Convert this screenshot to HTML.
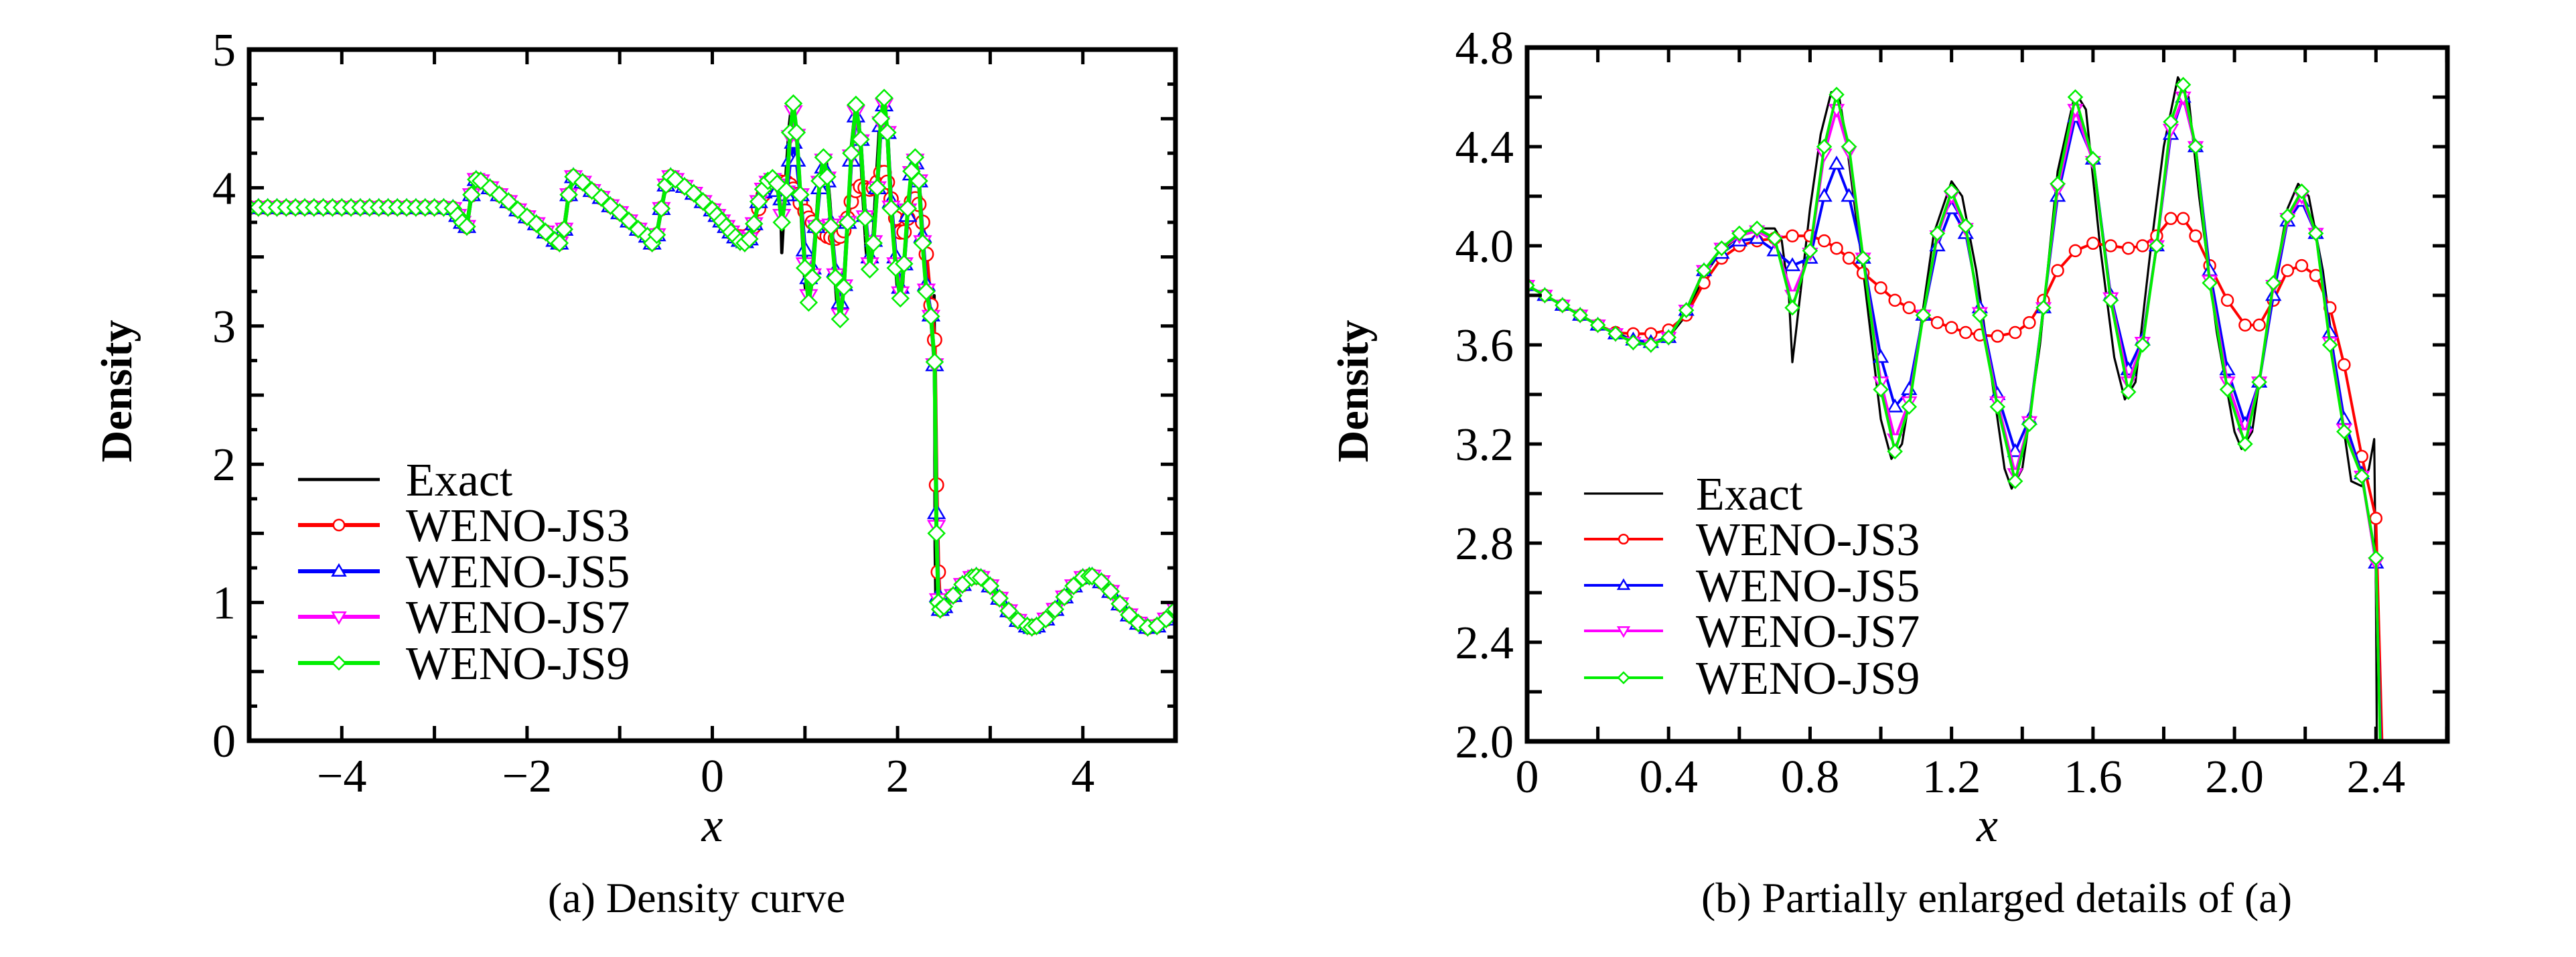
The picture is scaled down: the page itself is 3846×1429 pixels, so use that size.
<!DOCTYPE html>
<html><head><meta charset="utf-8"><title>Density curves</title>
<style>
html,body{margin:0;padding:0;background:#fff;overflow:hidden;width:3846px;height:1429px;}
svg{display:block;}
text{font-family:"Liberation Serif",serif;fill:#000;}
</style></head>
<body>
<svg id="fig" width="3846" height="1429" viewBox="0 0 3846 1429" xmlns="http://www.w3.org/2000/svg" font-family="Liberation Serif, serif">
<defs>
<clipPath id="clipA"><rect x="372" y="74" width="1383" height="1032"/></clipPath>
<clipPath id="clipB"><rect x="2280" y="71" width="1374" height="1036"/></clipPath>
</defs>
</svg>
<script>
// ---------- data ----------
var leftX = [-5,-4.9,-4.8,-4.7,-4.6,-4.5,-4.4,-4.3,-4.2,-4.1,-4,-3.9,-3.8,-3.7,-3.6,-3.5,-3.4,-3.3,-3.2,-3.1,-3,-2.9,-2.8,-2.75,-2.7,-2.65,-2.6,-2.55,-2.5,-2.4,-2.3,-2.2,-2.1,-2,-1.9,-1.8,-1.7,-1.65,-1.6,-1.55,-1.5,-1.4,-1.3,-1.2,-1.1,-1,-0.9,-0.8,-0.7,-0.65,-0.6,-0.55,-0.5,-0.45,-0.4,-0.3,-0.2,-0.1];
var leftY = [3.857,3.857,3.857,3.857,3.857,3.857,3.857,3.857,3.857,3.857,3.857,3.857,3.857,3.857,3.857,3.857,3.857,3.857,3.857,3.857,3.857,3.857,3.85,3.8,3.75,3.72,3.95,4.06,4.05,4.0,3.95,3.9,3.84,3.79,3.74,3.68,3.62,3.6,3.7,3.95,4.08,4.04,3.98,3.93,3.87,3.82,3.76,3.7,3.65,3.6,3.66,3.85,4.02,4.08,4.06,4.01,3.96,3.9];
var rightX = [2.46,2.5,2.6,2.7,2.8,2.85,2.9,3.0,3.1,3.2,3.3,3.4,3.45,3.5,3.6,3.7,3.8,3.9,4.0,4.07,4.1,4.2,4.3,4.4,4.5,4.6,4.7,4.8,4.9,5.0];
var rightY = [0.95,0.97,1.05,1.13,1.18,1.19,1.18,1.12,1.03,0.94,0.87,0.83,0.82,0.83,0.88,0.95,1.04,1.12,1.18,1.19,1.19,1.15,1.08,0.99,0.91,0.85,0.82,0.83,0.88,0.95];

var exactInnerX = [0,0.1,0.2,0.3,0.35,0.4,0.45,0.5,0.55,0.6,0.65,0.7,0.72,0.74,0.75,0.76,0.78,0.8,0.83,0.86,0.88,0.9,0.95,1.0,1.03,1.06,1.1,1.15,1.2,1.23,1.27,1.3,1.35,1.37,1.4,1.45,1.5,1.55,1.58,1.62,1.66,1.69,1.72,1.76,1.8,1.84,1.87,1.9,1.95,2.0,2.02,2.05,2.1,2.15,2.18,2.21,2.25,2.3,2.33,2.36,2.38,2.395,2.40,2.405,2.415];
var exactInnerY = [3.84,3.76,3.68,3.62,3.61,3.63,3.72,3.88,3.98,4.04,4.07,4.07,4.02,3.8,3.53,3.65,3.9,4.15,4.45,4.62,4.62,4.45,3.9,3.3,3.14,3.2,3.55,4.05,4.26,4.2,3.9,3.6,3.1,3.02,3.1,3.6,4.3,4.62,4.55,4.0,3.55,3.38,3.45,3.95,4.4,4.68,4.6,4.2,3.65,3.25,3.18,3.25,3.75,4.15,4.25,4.2,3.9,3.35,3.05,3.03,3.1,3.22,2.6,1.4,0.93];

var gridX = [0,0.05,0.1,0.15,0.2,0.25,0.3,0.35,0.4,0.45,0.5,0.55,0.6,0.65,0.7,0.75,0.8,0.84,0.875,0.91,0.95,1.0,1.04,1.08,1.12,1.16,1.2,1.24,1.28,1.33,1.38,1.42,1.46,1.5,1.55,1.6,1.65,1.7,1.74,1.78,1.82,1.855,1.89,1.93,1.98,2.03,2.07,2.11,2.15,2.19,2.23,2.27,2.31,2.36,2.40,2.42,2.44];
var js3Y = [3.84,3.8,3.76,3.72,3.68,3.65,3.645,3.645,3.66,3.72,3.85,3.95,4.0,4.02,4.03,4.04,4.04,4.02,3.99,3.95,3.89,3.83,3.78,3.75,3.72,3.69,3.67,3.65,3.64,3.635,3.65,3.69,3.78,3.9,3.98,4.01,4.0,3.99,4.0,4.04,4.11,4.11,4.04,3.92,3.78,3.68,3.68,3.78,3.9,3.92,3.88,3.75,3.52,3.15,2.9,1.85,1.22];
var js5Y = [3.84,3.8,3.76,3.72,3.68,3.645,3.62,3.61,3.63,3.74,3.9,3.97,4.02,4.03,3.98,3.92,3.95,4.2,4.33,4.2,3.95,3.55,3.35,3.42,3.72,4.0,4.15,4.05,3.75,3.4,3.17,3.3,3.75,4.2,4.52,4.35,3.8,3.5,3.62,4.0,4.45,4.6,4.4,3.9,3.5,3.28,3.45,3.8,4.1,4.18,4.05,3.65,3.3,3.08,2.72,1.65,1.05];
var js7Y = [3.84,3.8,3.76,3.72,3.68,3.645,3.61,3.6,3.63,3.74,3.9,3.99,4.04,4.06,4.02,3.8,3.97,4.37,4.55,4.38,3.95,3.45,3.22,3.37,3.72,4.04,4.2,4.07,3.73,3.37,3.08,3.29,3.75,4.23,4.55,4.34,3.79,3.45,3.61,4.0,4.47,4.6,4.4,3.86,3.45,3.24,3.45,3.84,4.11,4.2,4.05,3.61,3.26,3.07,2.72,1.55,1.02];
var js9Y = [3.84,3.8,3.76,3.72,3.68,3.645,3.61,3.6,3.63,3.74,3.9,3.99,4.05,4.07,4.03,3.75,3.98,4.4,4.61,4.4,3.95,3.42,3.17,3.35,3.72,4.05,4.22,4.08,3.72,3.35,3.05,3.28,3.75,4.25,4.6,4.35,3.78,3.41,3.6,4.0,4.5,4.65,4.4,3.85,3.42,3.2,3.45,3.85,4.12,4.22,4.05,3.6,3.25,3.07,2.74,1.5,1.0];

var seriesNames = ["Exact","WENO-JS3","WENO-JS5","WENO-JS7","WENO-JS9"];
var ticksAX = [-4,-2,0,2,4];
var ticksAY = [0,1,2,3,4,5];
var ticksBX = ["0","0.4","0.8","1.2","1.6","2.0","2.4"];
var ticksBY = ["2.0","2.4","2.8","3.2","3.6","4.0","4.4","4.8"];

// ---------- rendering ----------
var NS = "http://www.w3.org/2000/svg";
var svg = document.getElementById("fig");
var FONT = "'Liberation Serif', serif";
function mk(tag, attrs, parent){
  var e = document.createElementNS(NS, tag);
  for (var k in attrs) e.setAttribute(k, attrs[k]);
  if (tag === "text") e.setAttribute("font-family", FONT);
  (parent||svg).appendChild(e);
  return e;
}
function cat(a,b,c){ return a.concat(b, c); }
var series = [
  {x: cat(leftX, exactInnerX, rightX), y: cat(leftY, exactInnerY, rightY), color:"#000", marker:null, key:"exact"},
  {x: cat(leftX, gridX, rightX), y: cat(leftY, js3Y, rightY), color:"#ff0000", marker:"circle", key:"weno-js3"},
  {x: cat(leftX, gridX, rightX), y: cat(leftY, js5Y, rightY), color:"#0000ff", marker:"tri-up", key:"weno-js5"},
  {x: cat(leftX, gridX, rightX), y: cat(leftY, js7Y, rightY), color:"#ff00ff", marker:"tri-down", key:"weno-js7"},
  {x: cat(leftX, gridX, rightX), y: cat(leftY, js9Y, rightY), color:"#00ee00", marker:"diamond", key:"weno-js9"}
];

function markerPath(type, cx, cy, r){
  if (type==="tri-up") return "M"+cx+","+(cy-r)+"L"+(cx+r)+","+(cy+r*0.7)+"L"+(cx-r)+","+(cy+r*0.7)+"Z";
  if (type==="tri-down") return "M"+cx+","+(cy+r)+"L"+(cx+r)+","+(cy-r*0.7)+"L"+(cx-r)+","+(cy-r*0.7)+"Z";
  if (type==="diamond") return "M"+cx+","+(cy-r)+"L"+(cx+r)+","+cy+"L"+cx+","+(cy+r)+"L"+(cx-r)+","+cy+"Z";
  return null;
}
function drawMarker(g, type, cx, cy, r, color, w){
  var m;
  if (type==="circle") m = mk("circle",{cx:cx,cy:cy,r:r*0.85,fill:"#fff","stroke":color,"stroke-width":w},g);
  else m = mk("path",{d:markerPath(type,cx,cy,r),fill:"#fff",stroke:color,"stroke-width":w},g);
  
  
}

function plot(cfg){
  var P = mk("g",{});
  
  
  var L=cfg.L,R=cfg.R,T=cfg.T,B=cfg.B;
  function sx(v){ return L + (v-cfg.x0)/(cfg.x1-cfg.x0)*(R-L); }
  function sy(v){ return B - (v-cfg.y0)/(cfg.y1-cfg.y0)*(B-T); }
  var sg = mk("g",{"clip-path":"url(#"+cfg.clip+")"},P);
  
  
  series.forEach(function(s){
    var g = mk("g",{},sg);
    
    
    var d="";
    for (var i=0;i<s.x.length;i++){
      if (s.x[i] < cfg.x0-0.3 || s.x[i] > cfg.x1+0.3) continue;
      d += (d?"L":"M")+sx(s.x[i]).toFixed(1)+","+sy(s.y[i]).toFixed(1);
    }
    var ln = mk("path",{d:d,fill:"none",stroke:s.color,"stroke-width":s.marker?cfg.lw:cfg.lw*0.8,"stroke-linejoin":"round"},g);
    
    
    if (s.marker){
      for (var j=0;j<s.x.length;j++){
        if (s.x[j] < cfg.x0-0.1 || s.x[j] > cfg.x1+0.1) continue;
        drawMarker(g, s.marker, sx(s.x[j]), sy(s.y[j]), cfg.mr, s.color, 2.5);
      }
    }
  });
  var fr = mk("rect",{x:L,y:T,width:R-L,height:B-T,fill:"none",stroke:"#000","stroke-width":7},P);
  
  
  var tg = mk("g",{stroke:"#000","stroke-width":5},P);
  
  
  cfg.xTicks.forEach(function(t){
    var x=sx(t.v), len=t.major?22:14;
    mk("line",{x1:x,y1:B,x2:x,y2:B-len},tg); mk("line",{x1:x,y1:T,x2:x,y2:T+len},tg);
  });
  cfg.yTicks.forEach(function(t){
    var y=sy(t.v), len=t.major?22:12;
    mk("line",{x1:L,y1:y,x2:L+len,y2:y},tg); mk("line",{x1:R,y1:y,x2:R-len,y2:y},tg);
  });
  cfg.xLabels.forEach(function(t){
    var tx = mk("text",{x:sx(t.v),y:B+76,"font-size":70,"text-anchor":"middle"},P);
    tx.textContent = t.s;
    
    
  });
  cfg.yLabels.forEach(function(t){
    var tx = mk("text",{x:L-20,y:sy(t.v)+24,"font-size":70,"text-anchor":"end"},P);
    tx.textContent = t.s;
    
    
  });
  var yl = mk("text",{x:0,y:0,"font-size":66,"font-weight":"bold","text-anchor":"middle",transform:"translate("+(cfg.ylx)+",584) rotate(-90)"},P);
  yl.textContent="Density";
  
  
  var xl = mk("text",{x:(L+R)/2,y:1256,"font-size":72,"font-style":"italic","text-anchor":"middle"},P);
  xl.textContent="x";
  
  
  var cp = mk("text",{x:cfg.capX,y:1362,"font-size":64,"text-anchor":"middle"},P);
  cp.textContent=cfg.caption;
  
  
  var lg = mk("g",{},P);
  
  
  series.forEach(function(s,i){
    var y = cfg.legY[i];
    var e = mk("g",{},lg);
    
    
    mk("line",{x1:cfg.legX0,y1:y,x2:cfg.legX1,y2:y,stroke:s.color,"stroke-width":s.marker?cfg.lw:cfg.lw*0.8},e);
    if (s.marker) drawMarker(e, s.marker, (cfg.legX0+cfg.legX1)/2, y, cfg.mr*0.8, s.color, 2.5);
    var t = mk("text",{x:cfg.legTX,y:y+24,"font-size":70},e);
    t.textContent = seriesNames[i];
  });
}

var axT=[], ayT=[], axL=[], ayL=[];
for (var v=-5; v<=5; v++) axT.push({v:v, major:true});
for (var k=0; k<=20; k++) ayT.push({v:k*0.25, major:(k%2===0)});
ticksAX.forEach(function(v){ axL.push({v:v, s:(v<0?"\u2212"+(-v):String(v))}); });
ticksAY.forEach(function(v){ ayL.push({v:v, s:String(v)}); });
plot({name:"density-chart-a", clip:"clipA", L:372,R:1755,T:74,B:1106, x0:-5,x1:5,y0:0,y1:5,
  xTicks:axT, yTicks:ayT, xLabels:axL, yLabels:ayL, lw:6, mr:12, ylx:196, capX:1040,
  caption:"(a) Density curve", legX0:445, legX1:567, legTX:606, legY:[716,784,853,921,990]});

var bxT=[], byT=[], bxL=[], byL=[];
for (var a=0; a<=13; a++) bxT.push({v:a*0.2, major:true});
for (var b=0; b<=14; b++) byT.push({v:2+b*0.2, major:true});
ticksBX.forEach(function(s){ bxL.push({v:parseFloat(s), s:s}); });
ticksBY.forEach(function(s){ byL.push({v:parseFloat(s), s:s}); });
plot({name:"density-chart-b", clip:"clipB", L:2280,R:3654,T:71,B:1107, x0:0,x1:2.602,y0:2.0,y1:4.8,
  xTicks:bxT, yTicks:byT, xLabels:bxL, yLabels:byL, lw:4, mr:10, ylx:2042, capX:2981,
  caption:"(b) Partially enlarged details of (a)", legX0:2365, legX1:2483, legTX:2532, legY:[737,805,874,942,1012]});
</script>
</body></html>
